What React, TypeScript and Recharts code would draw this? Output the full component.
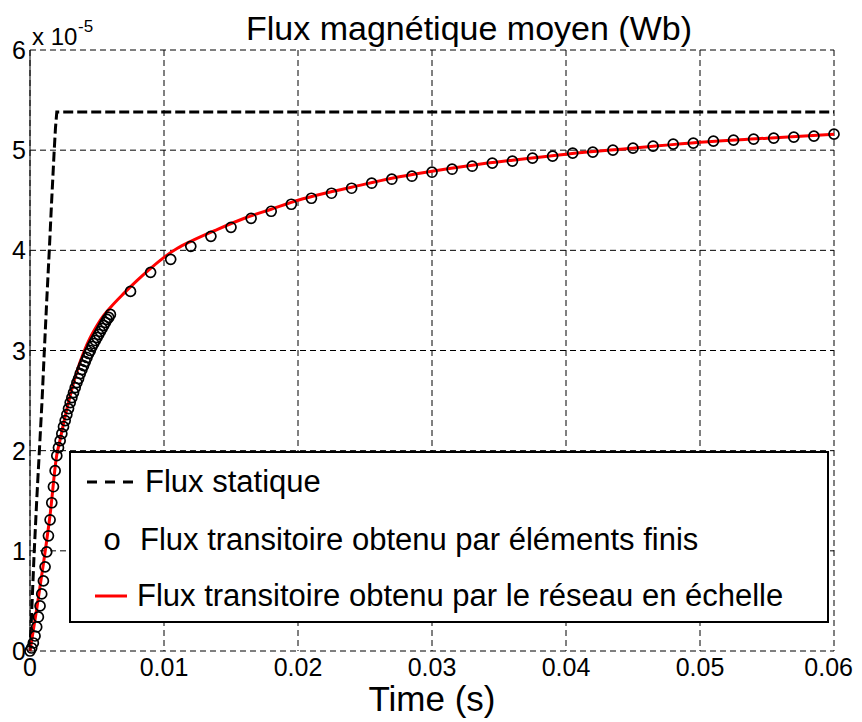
import React from 'react';
import { LineChart, Line, XAxis, YAxis, CartesianGrid, Legend, Label } from 'recharts';

const FONT = '"Liberation Sans", Arial, Helvetica, sans-serif';

// Axis ticks
const xTicks = [0, 0.01, 0.02, 0.03, 0.04, 0.05, 0.06];
const xTickLabels = ['0', '0.01', '0.02', '0.03', '0.04', '0.05', '0.06'];
const yTicks = [0, 1, 2, 3, 4, 5, 6];
const yTickLabels = ['0', '1', '2', '3', '4', '5', '6'];

// Flux statique (x 1e-5 Wb)
const staticT = [0, 0.0001, 0.0003, 0.0005, 0.0007, 0.0009, 0.00107, 0.00125, 0.00144, 0.0016, 0.0018, 0.0019, 0.002, 0.06];
const staticY = [0, 0.3, 0.95, 1.5, 2.0, 2.5, 3.0, 3.5, 4.0, 4.45, 4.98, 5.22, 5.38, 5.38];

// Flux transitoire - éléments finis (markers)
const femT = [
  0, 0.000125, 0.00025, 0.000375, 0.0005, 0.000625, 0.00075, 0.000875, 0.001, 0.001125,
  0.00125, 0.001375, 0.0015, 0.001625, 0.00175, 0.001875, 0.002, 0.002125, 0.00225, 0.002375,
  0.0025, 0.002625, 0.00275, 0.002875, 0.003, 0.003125, 0.00325, 0.003375, 0.0035, 0.003625,
  0.00375, 0.003875, 0.004, 0.004125, 0.00425, 0.004375, 0.0045, 0.004625, 0.00475, 0.004875,
  0.005, 0.005125, 0.00525, 0.005375, 0.0055, 0.005625, 0.00575, 0.005875, 0.006,
  0.0075, 0.009, 0.0105, 0.012, 0.0135, 0.015, 0.0165, 0.018, 0.0195, 0.021,
  0.0225, 0.024, 0.0255, 0.027, 0.0285, 0.03, 0.0315, 0.033, 0.0345, 0.036,
  0.0375, 0.039, 0.0405, 0.042, 0.0435, 0.045, 0.0465, 0.048, 0.0495, 0.051,
  0.0525, 0.054, 0.0555, 0.057, 0.0585, 0.06,
];
const femY = [
  0, 0.03, 0.08, 0.15, 0.24, 0.34, 0.45, 0.57, 0.70, 0.84,
  0.99, 1.15, 1.31, 1.48, 1.64, 1.80, 1.95, 2.03, 2.10, 2.17,
  2.24, 2.30, 2.36, 2.42, 2.48, 2.53, 2.58, 2.63, 2.68, 2.72,
  2.77, 2.81, 2.85, 2.89, 2.93, 2.97, 3.00, 3.04, 3.07, 3.10,
  3.13, 3.16, 3.19, 3.22, 3.25, 3.28, 3.31, 3.33, 3.36,
  3.59, 3.78, 3.91, 4.04, 4.14, 4.23, 4.32, 4.39, 4.46, 4.52,
  4.57, 4.62, 4.67, 4.71, 4.74, 4.78, 4.81, 4.84, 4.87, 4.89,
  4.92, 4.94, 4.97, 4.98, 5.00, 5.02, 5.04, 5.06, 5.07, 5.09,
  5.10, 5.11, 5.12, 5.13, 5.14, 5.16,
];

// Flux transitoire - réseau en échelle (red line)
const ladderT = [0, 0.0005, 0.001, 0.0015, 0.002, 0.0022, 0.0025, 0.003, 0.0035, 0.004, 0.0045, 0.005, 0.0055, 0.006, 0.007, 0.008, 0.009, 0.01, 0.011, 0.012, 0.014, 0.016, 0.018, 0.02, 0.022, 0.024, 0.027, 0.03, 0.033, 0.036, 0.04, 0.045, 0.05, 0.055, 0.06];
const ladderY = [0, 0.42, 0.87, 1.36, 1.96, 2.08, 2.27, 2.55, 2.79, 2.98, 3.13, 3.25, 3.35, 3.43, 3.57, 3.70, 3.82, 3.93, 4.02, 4.09, 4.21, 4.32, 4.41, 4.5, 4.57, 4.63, 4.72, 4.79, 4.85, 4.9, 4.96, 5.02, 5.08, 5.12, 5.16];

const staticData = staticT.map((t, i) => ({ t, y: staticY[i] }));
const femData = femT.map((t, i) => ({ t, y: femY[i] }));
const ladderData = ladderT.map((t, i) => ({ t, y: ladderY[i] }));

const CHART_W = 846;

const XTick = (props: any) => {
  const { x, y, payload, index } = props;
  const label = xTickLabels[index] ?? String(payload.value);
  const isLast = index === xTickLabels.length - 1;
  return (
    <text
      x={isLast ? CHART_W - 1 : x}
      y={y + 21}
      textAnchor={isLast ? 'end' : 'middle'}
      fontSize={25}
      fontFamily={FONT}
      fill="#000"
    >
      {label}
    </text>
  );
};

const YTick = (props: any) => {
  const { x, y, payload, index } = props;
  const label = yTickLabels[index] ?? String(payload.value);
  return (
    <text x={x} y={y + 9} textAnchor="end" fontSize={25} fontFamily={FONT} fill="#000">
      {label}
    </text>
  );
};

const TopTexts = () => (
  <g>
    <text x={461} y={32} textAnchor="middle" fontSize={34} fontFamily={FONT} fill="#000">
      Flux magnétique moyen (Wb)
    </text>
    <text x={24} y={37} fontSize={24} fontFamily={FONT} fill="#000">x 10</text>
    <text x={70} y={24} fontSize={17} fontFamily={FONT} fill="#000">-5</text>
  </g>
);

const BottomText = () => (
  <text x={424} y={703} textAnchor="middle" fontSize={35} fontFamily={FONT} fill="#000">
    Time (s)
  </text>
);

const LegendBox = () => (
  <svg width={760} height={172} style={{ display: 'block' }}>
    <rect x={1} y={1} width={758} height={170} fill="#fff" stroke="#000" strokeWidth={2} />
    <line x1={18} x2={64} y1={31} y2={31} stroke="#000" strokeWidth={3} strokeDasharray="10 8" />
    <text x={76} y={41} fontSize={31} fontFamily={FONT} fill="#000">Flux statique</text>
    <text x={43} y={99} textAnchor="middle" fontSize={31} fontFamily={FONT} fill="#000">o</text>
    <text x={71} y={99} fontSize={31} fontFamily={FONT} fill="#000">Flux transitoire obtenu par éléments finis</text>
    <line x1={26} x2={58} y1={145} y2={145} stroke="#ff0000" strokeWidth={3} />
    <text x={68} y={155} fontSize={31} fontFamily={FONT} fill="#000">Flux transitoire obtenu par le réseau en échelle</text>
  </svg>
);

export default function App() {
  return (
    <div style={{ width: CHART_W, height: 714 }}>
      <LineChart width={CHART_W} height={714} margin={{ top: 42, right: 20, bottom: 41, left: 0 }}>
        <CartesianGrid stroke="#000" strokeWidth={1} strokeDasharray="6 4" />
        <XAxis
          dataKey="t"
          type="number"
          domain={[0, 0.06]}
          ticks={xTicks}
          interval={0}
          tick={XTick}
          tickLine={false}
          axisLine={false}
          tickSize={0}
          tickMargin={4}
          height={30}
        >
          <Label content={BottomText} />
        </XAxis>
        <YAxis
          type="number"
          domain={[0, 6]}
          ticks={yTicks}
          interval={0}
          tick={YTick}
          tickLine={false}
          axisLine={{ stroke: '#000', strokeWidth: 1 }}
          tickSize={0}
          tickMargin={4}
          width={22}
        >
          <Label content={TopTexts} />
        </YAxis>
        <Line
          data={staticData}
          dataKey="y"
          type="linear"
          stroke="#000"
          strokeWidth={3}
          strokeDasharray="10 4"
          dot={false}
          activeDot={false}
          isAnimationActive={false}
          legendType="none"
        />
        <Line
          data={femData}
          dataKey="y"
          type="linear"
          stroke="none"
          dot={{ r: 5, stroke: '#000', strokeWidth: 1.7, fill: 'none' }}
          activeDot={false}
          isAnimationActive={false}
          legendType="none"
        />
        <Line
          data={ladderData}
          dataKey="y"
          type="monotone"
          stroke="#ff0000"
          strokeWidth={3}
          dot={false}
          activeDot={false}
          isAnimationActive={false}
          legendType="none"
        />
        <Legend
          layout="horizontal"
          verticalAlign="middle"
          align="center"
          wrapperStyle={{ position: 'absolute', left: 61, top: 443, width: 760, height: 172 }}
          content={() => <LegendBox />}
        />
      </LineChart>
    </div>
  );
}
